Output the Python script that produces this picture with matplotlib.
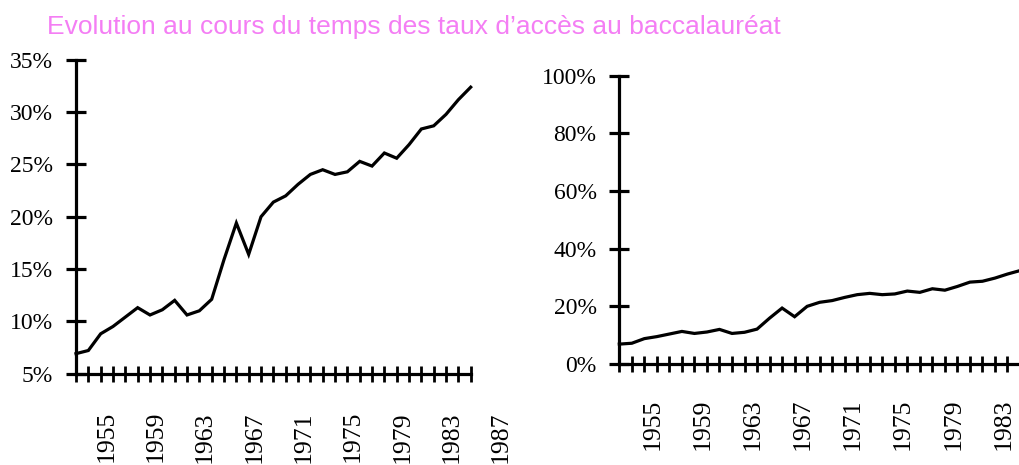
import matplotlib
matplotlib.use("Agg")
import matplotlib.pyplot as plt
from matplotlib.ticker import FuncFormatter
from matplotlib.transforms import ScaledTranslation

# ---- data ----
years = list(range(1953, 1986))
taux = [6.9, 7.2, 8.8, 9.5, 10.4, 11.3, 10.6, 11.1, 12.0, 10.6, 11.0, 12.1,
        15.9, 19.4, 16.4, 20.0, 21.4, 22.0, 23.1, 24.05, 24.5, 24.05, 24.3,
        25.3, 24.85, 26.1, 25.6, 26.9, 28.4, 28.7, 29.8, 31.2, 32.4]
labelled_years = [1955, 1959, 1963, 1967, 1971, 1975, 1979, 1983, 1987]
left_yticks = [0.05, 0.10, 0.15, 0.20, 0.25, 0.30, 0.35]
right_yticks = [0.0, 0.2, 0.4, 0.6, 0.8, 1.0]
title = "Evolution au cours du temps des taux d\u2019acc\u00e8s au baccalaur\u00e9at"

W, H = 1020, 465
fig = plt.figure(figsize=(W / 100, H / 100), dpi=100)

serif = ["Liberation Serif", "DejaVu Serif"]
pct = FuncFormatter(lambda v, p: f"{v*100:.0f}%")
vals = [v / 100 for v in taux]
YEAR_FS = 18.5


def style(ax, ylim, yticks, xpad, ypad, xoff):
    ax.plot(years, vals, color="black", lw=2.3, solid_joinstyle="miter", clip_on=False)
    ax.set_xlim(years[0], years[-1])
    ax.set_ylim(*ylim)
    ax.set_yticks(yticks)
    ax.yaxis.set_major_formatter(pct)
    ax.set_xticks(years)
    ax.set_xticklabels([str(y) if y in labelled_years else "" for y in years])
    for s in ["top", "right"]:
        ax.spines[s].set_visible(False)
    for s in ["left", "bottom"]:
        ax.spines[s].set_linewidth(2.3)
    ax.tick_params(axis="y", direction="inout", length=14, width=2.3, pad=ypad,
                   labelsize=17)
    ax.tick_params(axis="x", direction="inout", length=12, width=2.0, pad=xpad,
                   labelsize=YEAR_FS, labelrotation=90)
    for lab in ax.get_yticklabels() + ax.get_xticklabels():
        lab.set_fontfamily(serif)
    for lab in ax.get_xticklabels():
        lab.set_transform(lab.get_transform() + ScaledTranslation(xoff / 72, 0, fig.dpi_scale_trans))
    ax.patch.set_visible(False)


# left chart
ax1 = fig.add_axes([76 / W, (H - 373.5) / H, (470.7 - 76) / W, (373.5 - 60) / H])
style(ax1, (0.05, 0.35), left_yticks, 21, 9.4, 4)
# label 1987 beyond the axis end
ax1.text(1987, 0.05, "1987", rotation=90, ha="center", va="top",
         fontsize=YEAR_FS, family=serif, clip_on=False,
         transform=ax1.transData + ScaledTranslation(4 / 72, -27 / 72, fig.dpi_scale_trans))

# right chart
ax2 = fig.add_axes([619.3 / W, (H - 364) / H, (W - 619.3) / W, (364 - 75.7) / H])
style(ax2, (0.0, 1.0), right_yticks, 19, 9.4, 6)

fig.text(47 / W, 1 - 34 / H, title, color="#F47EF4", fontsize=19,
         family=["Liberation Sans", "DejaVu Sans"], va="baseline", ha="left")

fig.savefig("out.png", dpi=100)
